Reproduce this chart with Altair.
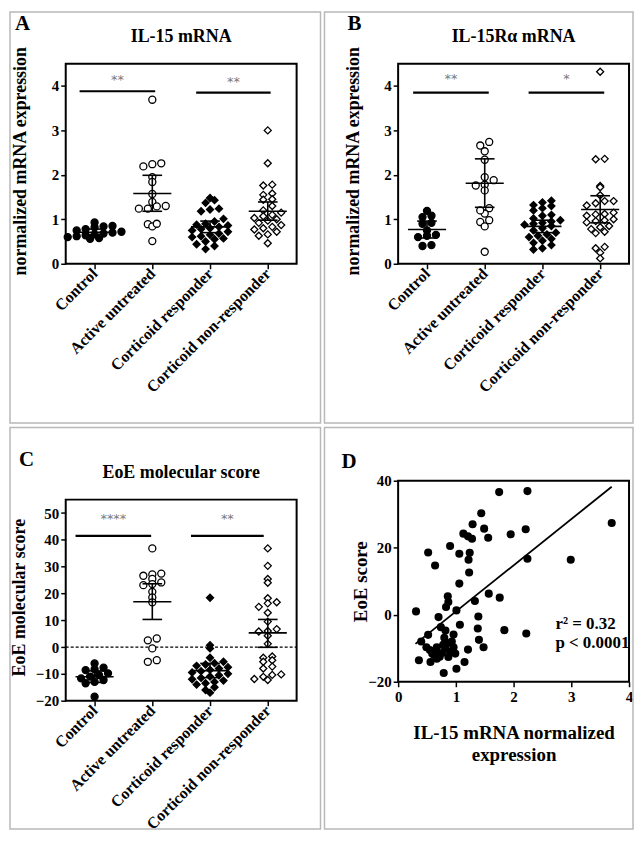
import json
import math
import altair as alt
import pandas as pd

groups = ["Control", "Active untreated", "Corticoid responder", "Corticoid non-responder"]

# ---------------- Panel A : IL-15 mRNA ----------------
a_control = [0.93, 0.85, 0.84, 0.82, 0.78, 0.75, 0.72, 0.70, 0.68, 0.66, 0.64, 0.62, 0.60, 0.58, 0.56]
a_active = [3.69, 2.24, 2.19, 2.26, 1.95, 1.84, 1.57, 1.39, 1.30, 1.24, 1.24, 1.29, 0.89, 0.84, 0.90, 0.51]
a_resp = [1.48, 1.43, 1.37, 1.24, 1.22, 1.18, 1.01, 0.95, 0.90, 0.88, 0.86, 0.83, 0.80, 0.78, 0.75,
          0.72, 0.68, 0.65, 0.62, 0.60, 0.57, 0.55, 0.50, 0.44, 0.40, 0.33]
a_nonresp = [3.00, 2.26, 1.78, 1.76, 1.58, 1.55, 1.45, 1.44, 1.30, 1.20, 1.15, 1.10, 1.07, 1.03, 1.00,
             0.97, 0.92, 0.87, 0.83, 0.80, 0.77, 0.72, 0.66, 0.63, 0.46]
a_mean = [0.71, 1.58, 0.83, 1.18]
a_lo = [0.65, 1.18, 0.70, 0.98]
a_hi = [0.78, 1.99, 0.96, 1.39]
a_sig_from = [-0.26, 1.76]
a_sig_to = [1.05, 3.05]
a_sig_y = [3.88, 3.85]
a_sig_lab = ["**", "**"]

# ---------------- Panel B : IL-15Ra mRNA ----------------
b_control = [1.19, 1.08, 1.05, 0.92, 0.90, 0.75, 0.65, 0.63, 0.60, 0.42, 0.40]
b_active = [2.74, 2.66, 2.53, 2.34, 1.95, 1.88, 1.76, 1.78, 1.65, 1.25, 1.13, 1.20, 0.94, 0.84, 0.98, 0.27]
b_resp = [1.42, 1.38, 1.32, 1.30, 1.25, 1.20, 1.10, 1.08, 1.02, 0.98, 0.95, 0.92, 0.90, 0.88, 0.85,
          0.80, 0.75, 0.70, 0.66, 0.63, 0.60, 0.56, 0.52, 0.47, 0.42, 0.35, 0.32]
b_nonresp = [4.32, 2.36, 2.35, 1.75, 1.72, 1.54, 1.41, 1.41, 1.36, 1.31, 1.15, 1.12, 1.11, 1.08, 1.00,
             0.98, 0.96, 0.93, 0.85, 0.82, 0.78, 0.72, 0.69, 0.38, 0.35, 0.25, 0.12]
b_mean = [0.77, 1.81, 0.84, 1.22]
b_lo = [0.58, 1.27, 0.70, 0.92]
b_hi = [0.96, 2.36, 0.98, 1.53]
b_sig_from = [-0.24, 1.76]
b_sig_to = [1.07, 3.07]
b_sig_y = [3.85, 3.85]
b_sig_lab = ["**", "*"]

# ---------------- Panel C : EoE molecular score ----------------
c_control = [-6.1, -7.7, -8.3, -8.6, -9.8, -10.5, -11.0, -11.7, -12.3, -13.0, -13.5, -18.5]
c_active = [36.8, 27.4, 27.1, 26.6, 25.4, 24.1, 23.5, 23.1, 20.6, 18.5, 16.7, 3.2, 2.5, -0.5, -4.9, -5.5]
c_resp = [18.4, 0.7, -0.5, -4.0, -5.5, -6.0, -6.5, -7.0, -7.5, -8.0, -8.5, -9.0, -9.5, -10.0, -10.5,
          -11.0, -11.5, -12.0, -12.5, -13.0, -13.5, -14.0, -15.0, -16.0, -17.0]
c_nonresp = [36.8, 30.3, 25.4, 24.0, 18.2, 16.7, 16.3, 15.0, 12.8, 9.5, 6.7, 6.0, 5.8, 4.2, 1.2,
             -3.5, -4.0, -4.9, -5.5, -7.3, -8.0, -10.2, -10.4, -11.1, -11.9, -12.3]
c_mean = [-11.1, 16.9, -8.8, 5.3]
c_lo = [-13.2, 10.3, -11.4, -0.1]
c_hi = [-8.9, 23.6, -6.1, 10.3]
c_sig_from = [-0.33, 1.67]
c_sig_to = [0.98, 2.93]
c_sig_y = [41.5, 41.5]
c_sig_lab = ["****", "**"]
c_ref_line = [0]

# ---------------- Panel D : correlation ----------------
d_il15 = [1.75, 2.24, 3.70, 1.44, 1.29, 1.49, 1.13, 1.21, 1.28, 1.56, 1.95, 2.21, 0.90, 0.52, 1.06,
          1.24, 1.22, 0.64, 2.24, 2.99, 1.23, 1.06, 1.57, 1.76, 0.86, 0.87, 0.83, 1.33, 0.31, 1.01,
          0.70, 1.39, 1.07, 0.74, 0.82, 1.38, 1.84, 2.22, 1.40, 0.96, 0.80, 0.52, 1.48, 0.40, 0.49,
          0.36, 0.56, 0.67, 0.59, 0.76, 0.67, 0.82, 0.90, 0.96, 0.87, 0.99, 0.79, 1.01, 1.15, 1.21,
          0.62, 0.72, 0.55, 0.85, 0.93, 0.66, 0.78]
d_eoe = [36.6, 36.9, 27.4, 30.3, 27.0, 25.7, 24.2, 23.4, 22.7, 23.0, 24.0, 25.5, 20.5, 18.6, 18.2,
         18.5, 16.4, 14.7, 16.7, 16.4, 12.6, 9.3, 6.3, 5.1, 5.5, 3.8, 2.3, 4.1, 1.0, 1.3,
         -0.7, -0.5, -3.0, -3.7, -4.7, -4.1, -4.6, -5.6, -7.5, -5.9, -6.9, -6.0, -9.7, -8.0, -9.7,
         -13.6, -14.1, -9.7, -11.6, -11.4, -13.1, -10.1, -11.1, -9.7, -12.6, -11.6, -17.4, -16.1, -14.1, -10.4,
         -12.0, -12.5, -10.5, -8.5, -8.0, -10.8, -9.0]
d_fit_x = [0.3, 3.7]
d_fit_y = [-8.7, 38.2]
d_stats = ["r² = 0.32", "p < 0.0001"]

FONT = "Liberation Serif"
W = 232
PX_PER_CAT = W / 4.0
LABEL_EXPR = json.dumps(groups) + "[datum.value]"
ONE = alt.Data(values=[{"k": 1}])


def spread(vals, pxu, row_h, gap):
    """GraphPad-like column scatter: values falling in the same pixel row are spread
    side by side, centred on the column (deterministic, derived from the values)."""
    rows = {}
    for i, v in enumerate(vals):
        rows.setdefault(math.floor(v * pxu / row_h), []).append(i)
    offs = [0.0] * len(vals)
    for idx in rows.values():
        idx = sorted(idx, key=lambda i: vals[i])
        n = len(idx)
        for j, i in enumerate(idx):
            offs[i] = (j - (n - 1) / 2.0) * gap
    return offs


def cell_frame(x1, x2, y1, y2):
    return alt.Chart(ONE).mark_rect(fillOpacity=0, stroke="#b8b8b8", strokeWidth=1.5).encode(
        x=alt.value(x1), x2=alt.value(x2), y=alt.value(y1), y2=alt.value(y2))


def label(text, x, y, size, align="left", baseline="alphabetic"):
    return alt.Chart(ONE).mark_text(text=text, font=FONT, fontWeight="bold", fontSize=size,
                                     align=align, baseline=baseline, color="black").encode(
        x=alt.value(x), y=alt.value(y))


def cat_panel(series, means, lows, highs, sfrom, sto, sy, slab, ydom, yticks, h, title, letter,
              ytitle, ytx, ytsize, star_dy, frame, zero_line=None):
    pxu = h / (ydom[1] - ydom[0])
    rows = []
    for i, vals in enumerate(series):
        offs = spread(vals, pxu, 6.5, 9.0)
        for v, o in zip(vals, offs):
            rows.append({"g": groups[i], "xp": i + o / PX_PER_CAT, "v": v})
    df = pd.DataFrame(rows)
    st = pd.DataFrame({"c": range(4), "m": means, "lo": lows, "hi": highs})
    st["xl"] = st["c"] - 0.33
    st["xr"] = st["c"] + 0.33
    st["cl"] = st["c"] - 0.17
    st["cr"] = st["c"] + 0.17
    sig = pd.DataFrame({"a": sfrom, "b": sto, "y": sy, "lab": slab})
    sig["xm"] = (sig["a"] + sig["b"]) / 2

    xsc = alt.Scale(domain=[-0.5, 3.5], nice=False, zero=False)
    ysc = alt.Scale(domain=ydom, nice=False, zero=False)
    xaxis = alt.Axis(values=[0, 1, 2, 3], labelExpr=LABEL_EXPR, labelAngle=315, labelAlign="right",
                     labelBaseline="middle", labelFontSize=16, labelPadding=2, labelOverlap=False,
                     labelFlush=False, labelBound=False, title=None)
    yaxis = alt.Axis(values=yticks, title=ytitle, titleX=ytx, titleY=h / 2 - 3, titleAngle=270,
                     titleAlign="center", titleBaseline="alphabetic", titleFontSize=ytsize,
                     labelFontSize=15, labelPadding=2, labelOverlap=False, labelFlush=False)

    def X(f):
        return alt.X(f, scale=xsc, axis=xaxis)

    def Y(f):
        return alt.Y(f, scale=ysc, axis=yaxis)

    pts = alt.Chart(df).mark_point(filled=True, stroke="black", strokeWidth=1.3, opacity=1).encode(
        x=X("xp:Q"),
        y=Y("v:Q"),
        shape=alt.Shape("g:N", scale=alt.Scale(domain=groups, range=["circle", "circle", "diamond", "diamond"]), legend=None),
        fill=alt.Fill("g:N", scale=alt.Scale(domain=groups, range=["black", "white", "black", "white"]), legend=None),
        size=alt.Size("g:N", scale=alt.Scale(domain=groups, range=[50, 50, 82, 82]), legend=None),
    )
    base = alt.Chart(st)
    mean_r = base.mark_rule(color="black", strokeWidth=1.6).encode(x=X("xl:Q"), x2="xr:Q", y=Y("m:Q"))
    whisk = base.mark_rule(color="black", strokeWidth=1.6).encode(x=X("c:Q"), y=Y("lo:Q"), y2="hi:Q")
    cap_lo = base.mark_rule(color="black", strokeWidth=1.6).encode(x=X("cl:Q"), x2="cr:Q", y=Y("lo:Q"))
    cap_hi = base.mark_rule(color="black", strokeWidth=1.6).encode(x=X("cl:Q"), x2="cr:Q", y=Y("hi:Q"))
    sbar = alt.Chart(sig).mark_rule(color="black", strokeWidth=2.2).encode(x=X("a:Q"), x2="b:Q", y=Y("y:Q"))
    stars = alt.Chart(sig).mark_text(color="#7a7a7a", fontSize=13, font="DejaVu Sans", baseline="middle",
                                     dy=star_dy).encode(x=X("xm:Q"), y=Y("y:Q"), text="lab:N")

    layers = [frame]
    if zero_line is not None:
        zl = alt.Chart(pd.DataFrame({"z": zero_line})).mark_rule(
            color="black", strokeWidth=1.2, strokeDash=[3, 2]).encode(
            x=alt.value(0), x2=alt.value(W), y=Y("z:Q"))
        layers.append(zl)
    layers += [pts, mean_r, whisk, cap_lo, cap_hi, sbar, stars,
               label(letter, -51 if letter != "C" else -47, -34, 21),
               label(title, W / 2, -22, 18, align="center")]
    return alt.layer(*layers).properties(width=W, height=h)


panel_a = cat_panel([a_control, a_active, a_resp, a_nonresp], a_mean, a_lo, a_hi,
                    a_sig_from, a_sig_to, a_sig_y, a_sig_lab, [0, 4.5], [0, 1, 2, 3, 4], 201,
                    "IL-15 mRNA", "A", "normalized mRNA expression", -40, 18, -11,
                    cell_frame(-56, 256, -52, 361))
panel_b = cat_panel([b_control, b_active, b_resp, b_nonresp], b_mean, b_lo, b_hi,
                    b_sig_from, b_sig_to, b_sig_y, b_sig_lab, [0, 4.5], [0, 1, 2, 3, 4], 201,
                    "IL-15Rα mRNA", "B", "normalized mRNA expression", -40, 18, -14,
                    cell_frame(-74, 236, -52, 361))
panel_c = cat_panel([c_control, c_active, c_resp, c_nonresp], c_mean, c_lo, c_hi,
                    c_sig_from, c_sig_to, c_sig_y, c_sig_lab, [-20, 55],
                    [-20, -10, 0, 10, 20, 30, 40, 50], 202,
                    "EoE molecular score", "C", "EoE molecular score", -41, 18, -17,
                    cell_frame(-56, 256, -72.5, 331), zero_line=c_ref_line)

# Panel D
dd = pd.DataFrame({"x": d_il15, "y": d_eoe})
fit = pd.DataFrame({"x": d_fit_x, "y": d_fit_y})
dx = alt.Scale(domain=[0, 4], nice=False, zero=False)
dy_ = alt.Scale(domain=[-20, 40], nice=False, zero=False)
d_xaxis = alt.Axis(values=[0, 1, 2, 3, 4], labelFontSize=15, labelPadding=3, labelFlush=False,
                   labelOverlap=False,
                   title=["IL-15 mRNA normalized", "expression"],
                   titleFontSize=19, titleX=W / 2, titleY=57,
                   titleAlign="center", titleBaseline="alphabetic", titleLineHeight=22)
d_yaxis = alt.Axis(values=[-20, 0, 20, 40], labelFontSize=15, labelPadding=2, labelFlush=False,
                   labelOverlap=False,
                   title="EoE score", titleFontSize=19, titleX=-32, titleY=101,
                   titleAngle=270, titleAlign="center", titleBaseline="alphabetic")
d_pts = alt.Chart(dd).mark_circle(size=66, color="black", opacity=1).encode(
    x=alt.X("x:Q", scale=dx, axis=d_xaxis), y=alt.Y("y:Q", scale=dy_, axis=d_yaxis))
d_fit = alt.Chart(fit).mark_line(color="black", strokeWidth=1.8).encode(
    x=alt.X("x:Q", scale=dx, axis=d_xaxis), y=alt.Y("y:Q", scale=dy_, axis=d_yaxis))
panel_d = alt.layer(
    cell_frame(-74, 236, -53.5, 350),
    d_pts, d_fit,
    label(d_stats[0], 158, 149, 17),
    label(d_stats[1], 158, 168, 17),
    label("D", -57, -13, 21),
).properties(width=W, height=202)

left = alt.vconcat(panel_a, panel_c, spacing=0)
right = alt.vconcat(panel_b, panel_d, spacing=0)
chart = alt.hconcat(left, right, spacing=0).properties(
    padding=0
).configure(font=FONT).configure_axis(
    labelFont=FONT, titleFont=FONT, labelFontWeight="bold", titleFontWeight="bold",
    labelColor="black", titleColor="black", tickColor="black", tickWidth=1.5, tickSize=5,
    domain=False, grid=False,
).configure_view(stroke="black", strokeWidth=2)

chart.save("out.html", embed_options={"renderer": "svg", "actions": False})
